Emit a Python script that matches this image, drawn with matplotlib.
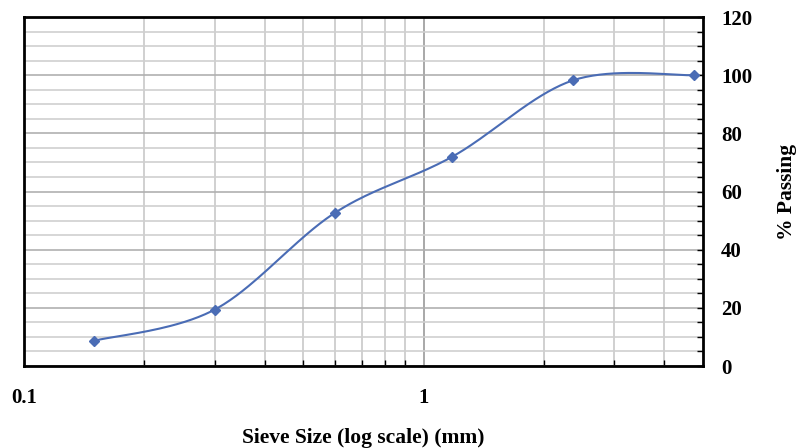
import numpy as np
import matplotlib
matplotlib.use("Agg")
import matplotlib.pyplot as plt
from matplotlib.ticker import FixedLocator, NullFormatter, MultipleLocator

# sieve analysis data
sieve_mm = [0.15, 0.3, 0.6, 1.18, 2.36, 4.75]
passing = [8.7, 19.4, 52.7, 72.0, 98.2, 100.0]

plt.rcParams['font.family'] = ['Liberation Serif', 'DejaVu Serif']

fig = plt.figure(figsize=(7.96, 4.48), dpi=100)
ax = fig.add_axes([0.0302, 0.183, 0.853, 0.779])

xmin, xmax = 0.1, 5.0
ymin, ymax = 0, 120
ax.set_xscale('log')
ax.set_xlim(xmin, xmax)
ax.set_ylim(ymin, ymax)


def smooth_curve(xs, ys, n=40):
    # spline with bezier handles at 1/6 of neighbour spacing, done in pixel-ish units
    sx = 398.0
    sy = 349.0 / 120.0
    p = np.column_stack([np.log10(xs) * sx, np.array(ys) * sy])
    out = []
    for i in range(len(p) - 1):
        p0 = p[i - 1] if i > 0 else p[i]
        p1 = p[i]
        p2 = p[i + 1]
        p3 = p[i + 2] if i + 2 < len(p) else p[i + 1]
        c1 = p1 + (p2 - p0) / 6.0
        c2 = p2 - (p3 - p1) / 6.0
        t = np.linspace(0, 1, n)[:, None]
        seg = ((1 - t) ** 3) * p1 + 3 * ((1 - t) ** 2) * t * c1 + 3 * (1 - t) * t ** 2 * c2 + t ** 3 * p2
        out.append(seg if i == 0 else seg[1:])
    out = np.vstack(out)
    return 10 ** (out[:, 0] / sx), out[:, 1] / sy


cx, cy = smooth_curve(sieve_mm, passing)
blue = '#4a6cb5'
ax.plot(cx, cy, color=blue, lw=1.5, zorder=3)
ax.plot(sieve_mm, passing, ls='none', marker='D', ms=5.5, color=blue, zorder=4)

# grid
ax.xaxis.set_major_locator(FixedLocator([0.1, 1]))
minor_x = [v * d for d in (0.1, 1) for v in range(2, 10) if v * d < xmax]
ax.xaxis.set_minor_locator(FixedLocator(minor_x))
ax.xaxis.set_minor_formatter(NullFormatter())
ax.yaxis.set_major_locator(MultipleLocator(20))
ax.yaxis.set_minor_locator(MultipleLocator(5))
ax.grid(which='major', axis='x', color='#9a9a9a', lw=1.2)
ax.grid(which='minor', axis='x', color='#c8c8c8', lw=1.2)
ax.grid(which='major', axis='y', color='#b0b0b0', lw=1.2)
ax.grid(which='minor', axis='y', color='#cfcfcf', lw=1.2)
ax.set_axisbelow(True)

for s in ax.spines.values():
    s.set_linewidth(2.0)
    s.set_color('black')

ax.yaxis.tick_right()
ax.yaxis.set_label_position('right')
ax.tick_params(axis='y', which='both', direction='in', length=4, width=1, pad=13)
ax.tick_params(axis='x', which='both', direction='in', length=4, width=1, pad=16)
ax.tick_params(axis='x', which='major', length=0)

ax.set_xticklabels(['0.1', '1'])
for lab in ax.get_xticklabels() + ax.get_yticklabels():
    lab.set_fontweight('bold')
    lab.set_fontsize(15)
for lab in ax.get_yticklabels():
    lab.set_horizontalalignment('left')

ax.set_xlabel('Sieve Size (log scale) (mm)', fontsize=15.5, fontweight='bold', labelpad=14)
ax.set_ylabel('% Passing', fontsize=15.5, fontweight='bold', labelpad=18, rotation=90)

fig.savefig('out.png', dpi=100)
